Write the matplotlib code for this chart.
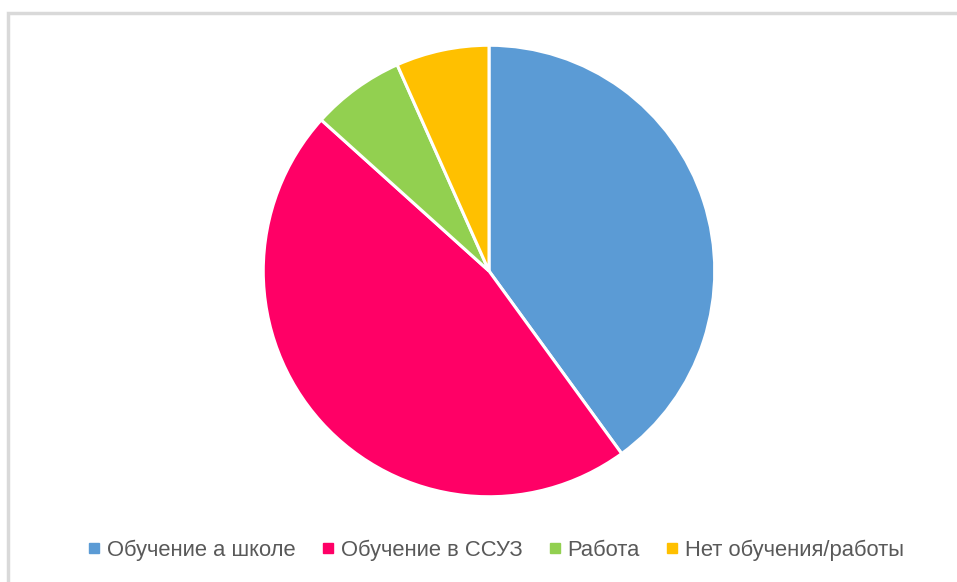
import matplotlib.pyplot as plt
from matplotlib.lines import Line2D
from matplotlib.patches import Rectangle

labels = ['Обучение а школе', 'Обучение в ССУЗ', 'Работа', 'Нет обучения/работы']
values = [12, 14, 2, 2]
colors = ['#5B9BD5', '#FF0066', '#92D050', '#FFC000']

plt.rcParams['font.family'] = ['Liberation Sans', 'DejaVu Sans']

fig = plt.figure(figsize=(9.57, 5.82), dpi=100)
W, H = 957, 582

# light grey frame (left and top edges visible)
fig.patches.append(Rectangle((8 / W, -0.05), 1.2, 1 - 13 / H + 0.05, transform=fig.transFigure,
                             fill=False, edgecolor='#D9D9D9', linewidth=2.5, zorder=0))

cx, cy, r = 489, 271, 228
ax = fig.add_axes([(cx - r) / W, (H - cy - r) / H, 2 * r / W, 2 * r / H])
ax.pie(values, colors=colors, startangle=90, counterclock=False, radius=1,
       wedgeprops=dict(edgecolor='white', linewidth=2.2))
ax.set_xlim(-1.01, 1.01)
ax.set_ylim(-1.01, 1.01)
ax.set_aspect('equal')
ax.axis('off')

handles = [Line2D([], [], marker='s', linestyle='', markersize=7, color=c) for c in colors]
fig.legend(handles, labels, loc='center', bbox_to_anchor=(0.517, 1 - 550 / H), ncol=4,
           frameon=False, fontsize=15.8, labelcolor='#595959', handletextpad=0.2,
           columnspacing=1.05, handlelength=0.8)

fig.savefig('out.png', dpi=100)
